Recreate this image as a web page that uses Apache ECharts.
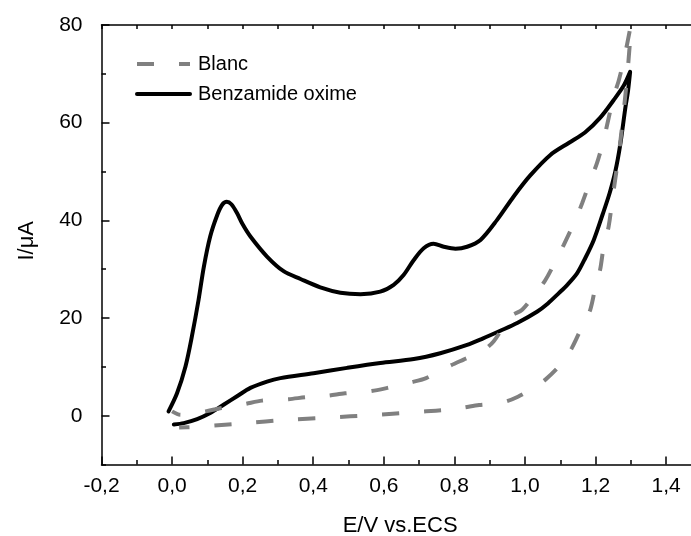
<!DOCTYPE html>
<html>
<head>
<meta charset="utf-8">
<script src="https://cdn.jsdelivr.net/npm/echarts@6/dist/echarts.min.js"></script>
<style>
  html, body { margin: 0; padding: 0; background: #fff; }
  #chart { width: 691px; height: 536px; }
</style>
</head>
<body>
<div id="chart"></div>
<script>
// Cyclic voltammograms: potential E (V vs. ECS) and current I (µA), in scan order.
const blancE = [0.0, 0.024, 0.06, 0.095, 0.14, 0.18, 0.21, 0.255, 0.33, 0.38, 0.44, 0.49, 0.56, 0.61,
  0.675, 0.72, 0.784, 0.826, 0.878, 0.911, 0.959, 0.992, 1.03, 1.058, 1.091, 1.11, 1.143, 1.162,
  1.186, 1.204, 1.223, 1.237, 1.251, 1.266, 1.282, 1.296, 1.31,
  1.304, 1.297, 1.289, 1.28, 1.27, 1.26, 1.249, 1.237, 1.223, 1.213, 1.2, 1.185, 1.162, 1.133,
  1.105, 1.058, 1.015, 0.98, 0.945, 0.9, 0.87, 0.82, 0.775, 0.72, 0.655, 0.595, 0.535, 0.475,
  0.415, 0.35, 0.295, 0.235, 0.18, 0.12, 0.06, 0.02];
const blancI = [0.9, 0.2, 0.5, 0.9, 1.6, 2.0, 2.45, 3.1, 3.4, 3.8, 4.1, 4.6, 5.0, 5.7,
  6.8, 7.7, 10.1, 11.5, 13.2, 15.2, 20.3, 21.7, 25.1, 27.8, 32.3, 35.0, 40.1, 43.5,
  48.3, 51.7, 56.5, 60.9, 65.3, 68.7, 73.5, 78.5, 84,
  83, 76, 69, 62.5, 56, 50.5, 45, 38.7, 34.6, 29.9, 26.5, 21.7, 18.3, 13.9,
  10.8, 7.4, 5.3, 3.9, 2.9, 2.4, 2.2, 1.6, 1.2, 0.9, 0.55, 0.25, 0.0, -0.25,
  -0.5, -0.75, -1.0, -1.35, -1.7, -2.0, -2.3, -2.4];

const benzE = [-0.01, 0.014, 0.038, 0.056, 0.075, 0.09, 0.108, 0.128, 0.142, 0.155, 0.168, 0.184, 0.2,
  0.222, 0.269, 0.316, 0.364, 0.42, 0.477, 0.534, 0.59, 0.628, 0.656, 0.685, 0.713, 0.741, 0.77,
  0.803, 0.836, 0.874, 0.921, 0.968, 1.015, 1.072, 1.125, 1.17, 1.214, 1.251, 1.28, 1.298,
  1.292, 1.285, 1.27, 1.256, 1.24, 1.22, 1.195, 1.171, 1.148, 1.12, 1.096, 1.065, 1.034, 0.978,
  0.93, 0.88, 0.836, 0.76, 0.685, 0.59, 0.496, 0.401, 0.307, 0.269, 0.222, 0.184, 0.147, 0.108,
  0.071, 0.033, 0.005];
const benzI = [0.9, 4.6, 10.1, 16.2, 23.7, 30.5, 36.7, 41.1, 43.2, 43.8, 43.3, 41.5, 39.2,
  36.7, 32.6, 29.6, 28.0, 26.3, 25.2, 24.9, 25.4, 26.8, 28.8, 31.9, 34.3, 35.2, 34.6,
  34.2, 34.6, 36.0, 40.1, 44.9, 49.2, 53.4, 55.9, 58.0, 61.1, 64.6, 67.6, 70.4,
  66.5, 63.3, 55.5, 50.0, 45.6, 41.2, 36.0, 32.3, 29.2, 26.8, 25.1, 23.0, 21.3, 19.0,
  17.4, 15.8, 14.5, 12.8, 11.6, 10.8, 9.8, 8.7, 7.7, 7.0, 5.7, 4.0, 2.3, 0.55,
  -0.7, -1.5, -1.8];

const seriesNames = ['Blanc', 'Benzamide oxime'];
const xTickValues = [-0.2, 0.0, 0.2, 0.4, 0.6, 0.8, 1.0, 1.2, 1.4];
const yTickValues = [0, 20, 40, 60, 80];

const FONT = '"Liberation Sans", Arial, Helvetica, sans-serif';
const INK = '#000';

const pairs = (xs, ys) => xs.map((x, i) => [x, ys[i]]);
const commaDecimal = v => v.toFixed(1).replace('.', ',');
const isXTick = v => xTickValues.some(t => Math.abs(t - v) < 1e-6);

const frameLine = { onZero: false, lineStyle: { color: INK, width: 1.5 } };
const tickLine = { color: INK, width: 1.5 };

const chart = echarts.init(document.getElementById('chart'), null, { renderer: 'canvas' });

chart.setOption({
  animation: false,
  backgroundColor: '#fff',
  // The frame runs past the right edge of the canvas, so only its left, top and bottom sides show.
  grid: {
    left: 101.5, top: 25, bottom: 71.4, right: -45.7,
    containLabel: false, outerBoundsMode: 'none'
  },
  legend: {
    data: seriesNames,
    orient: 'vertical',
    left: 135,
    top: 54,
    padding: 0,
    itemWidth: 53,
    itemHeight: 14,
    itemGap: 10,
    selectedMode: false,
    itemStyle: { opacity: 0, borderWidth: 0 },
    lineStyle: { width: 4, dashOffset: 0 },
    textStyle: { fontSize: 20, color: INK, fontFamily: FONT, lineHeight: 20, padding: [0, 0, 0, 3] }
  },
  xAxis: [
    {
      type: 'value', position: 'bottom', min: -0.2, max: 1.6, interval: 0.2,
      axisLine: frameLine,
      axisTick: { inside: true, length: 8, lineStyle: tickLine },
      minorTick: { show: true, splitNumber: 2, length: 4.5, lineStyle: tickLine },
      splitLine: { show: false },
      axisLabel: {
        margin: 11, fontSize: 21, color: INK, fontFamily: FONT,
        showMinLabel: true, showMaxLabel: true,
        formatter: v => (isXTick(v) ? commaDecimal(v) : '')
      },
      name: 'E/V vs.ECS', nameLocation: 'middle', nameGap: 50,
      nameTextStyle: { fontSize: 22, color: INK, fontFamily: FONT, padding: [0, 38, 0, 0] }
    },
    {
      type: 'value', position: 'top', min: -0.2, max: 1.6, interval: 0.2,
      axisLine: frameLine,
      axisTick: { inside: true, length: 4, lineStyle: tickLine },
      minorTick: { show: true, splitNumber: 2, length: 4, lineStyle: tickLine },
      splitLine: { show: false },
      axisLabel: { show: false }
    }
  ],
  yAxis: [
    {
      type: 'value', position: 'left', min: -10, max: 80, interval: 10,
      axisLine: frameLine,
      axisTick: { inside: true, length: 8, customValues: yTickValues, lineStyle: tickLine },
      splitLine: { show: false },
      axisLabel: {
        margin: 19, fontSize: 21, color: INK, fontFamily: FONT,
        customValues: yTickValues, formatter: v => String(v)
      },
      name: 'I/μA', nameLocation: 'middle', nameGap: 64,
      nameTextStyle: { fontSize: 22, color: INK, fontFamily: FONT, padding: [0, 0, 0, 8] }
    },
    {
      type: 'value', position: 'left', offset: 0, min: -10, max: 80, interval: 10,
      axisLine: { show: false, onZero: false },
      axisTick: { inside: true, length: 4.5, lineStyle: tickLine },
      splitLine: { show: false },
      axisLabel: { show: false }
    }
  ],
  series: [
    {
      name: seriesNames[1],
      type: 'line',
      data: pairs(benzE, benzI),
      showSymbol: false,
      symbol: 'none',
      smooth: 0.3,
      clip: true,
      lineStyle: { color: INK, width: 4, cap: 'round', join: 'round' },
      itemStyle: { color: INK },
      z: 3
    },
    {
      name: seriesNames[0],
      type: 'line',
      data: pairs(blancE, blancI),
      showSymbol: false,
      symbol: 'none',
      smooth: 0.3,
      clip: true,
      lineStyle: { color: '#808080', width: 4, type: [17, 25], dashOffset: 8 },
      itemStyle: { color: '#808080' },
      z: 4
    }
  ]
});
</script>
</body>
</html>
